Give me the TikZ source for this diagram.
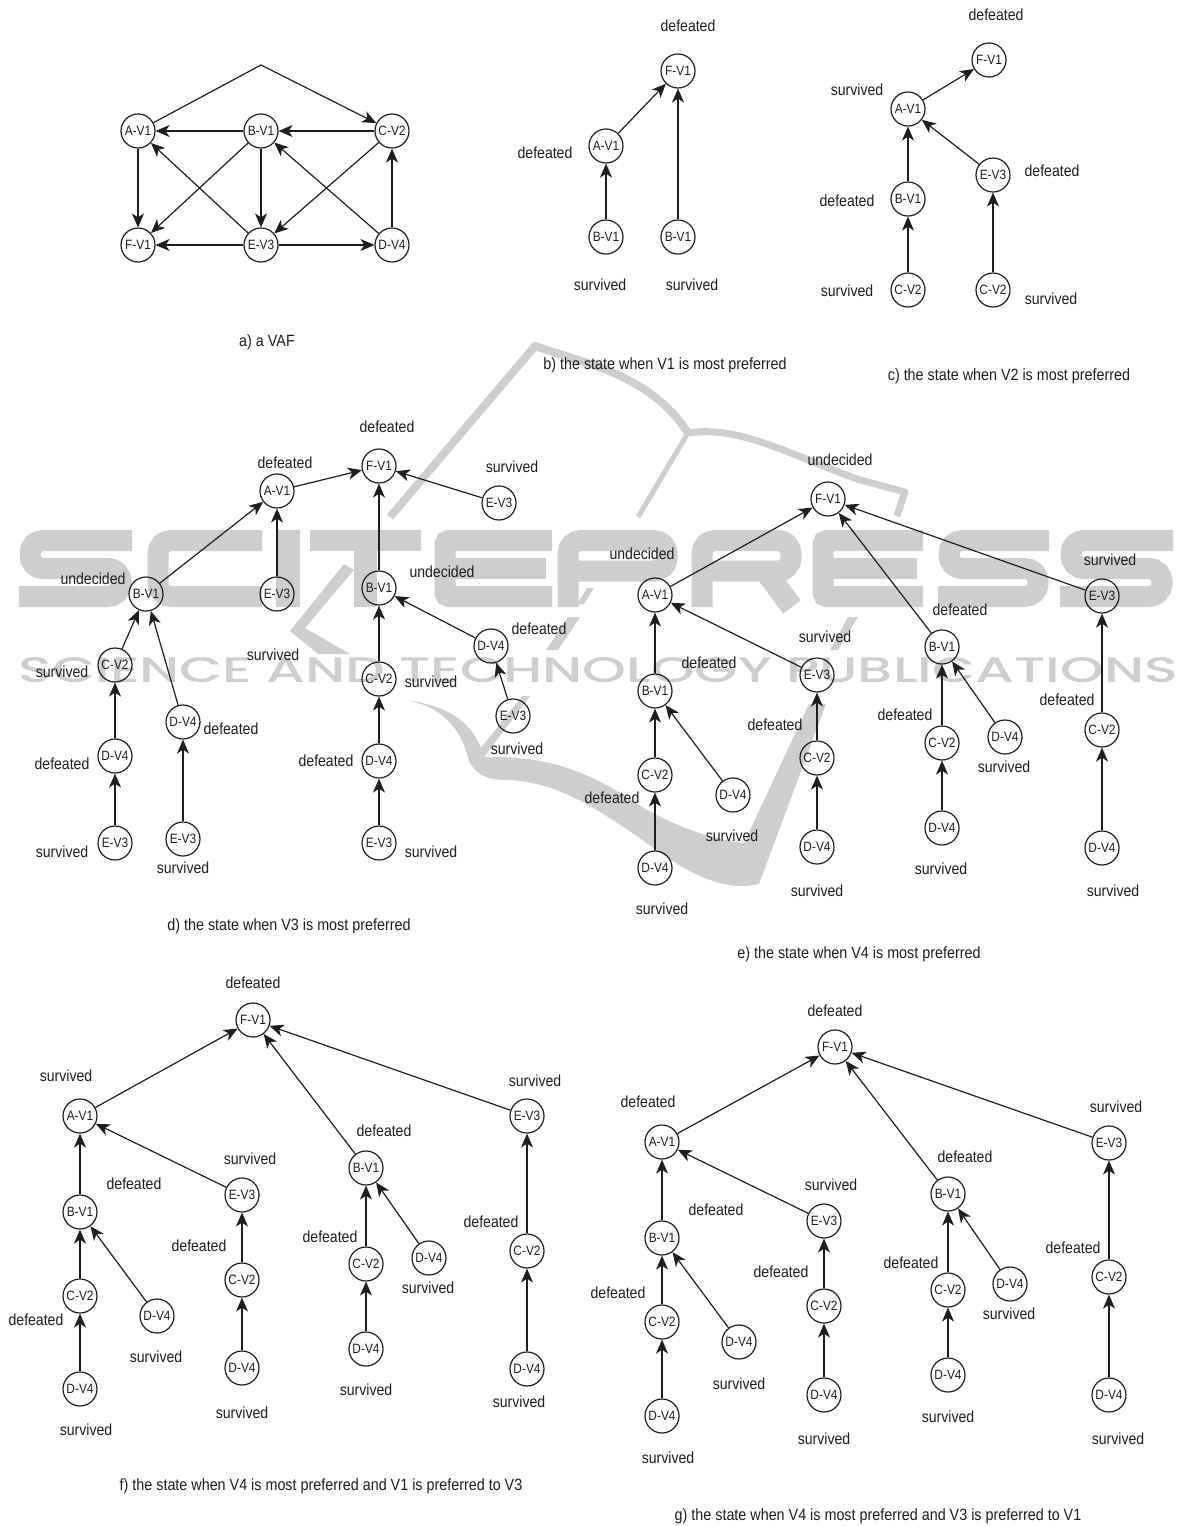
\documentclass[tikz,border=0pt]{standalone}
\usepackage{graphicx}
\usepackage{fontspec}
\setmainfont{Liberation Sans}[FakeStretch=0.88]
\newfontfamily\wmfont{Poppins Medium}
\usetikzlibrary{arrows.meta}
\definecolor{wm}{HTML}{CECECE}
\definecolor{ink}{HTML}{1E1E1E}
\tikzset{
  vnode/.style={circle,draw=ink,line width=1.2pt,minimum size=34pt,inner sep=0pt,text=ink,font=\fontsize{13.5}{13.5}\selectfont},
  edge/.style={draw=ink,line width=1.2pt,-{Stealth[length=14pt,width=12pt,inset=4pt]}},
  lab/.style={text=ink,inner sep=0pt,font=\fontsize{16}{16}\selectfont},
  captext/.style={text=ink,inner sep=0pt,font=\fontsize{16.3}{16.3}\selectfont},
  wmline/.style={draw=wm,line cap=butt,line join=round},
  wmfill/.style={fill=wm,draw=none},
  wmletter/.style={draw=wm,line width=21pt,line cap=butt,line join=miter,rounded corners=13pt},
}
\begin{document}
\begin{tikzpicture}[x=1pt,y=-1pt]
\useasboundingbox (0,0) rectangle (1182,1526);
% watermark: SCITEPRESS drawn as broad strokes
\begin{scope}[wmletter]
 \foreach \a/\b in {19/132, 938/1049, 1060/1173}
   \draw (\b,540.5) -- (\a+11,540.5) -- (\a+11,568.5) -- (\b-11,568.5) -- (\b-11,596.5) -- (\a,596.5);
 \draw (262,540.5) -- (158,540.5) -- (158,596.5) -- (262,596.5);
 \draw[rounded corners=0pt,line width=24pt] (287.5,530) -- (287.5,607);
 \draw[rounded corners=0pt] (310,540.5) -- (421,540.5);
 \draw[rounded corners=0pt,line width=23pt] (365.5,530) -- (365.5,607);
 \foreach \a/\b in {434/552, 812/923} {
   \draw[rounded corners=4pt] (\b,540.5) -- (\a+11,540.5) -- (\a+11,596.5) -- (\b,596.5);
   \draw[rounded corners=0pt] (\a+11,568.5) -- (\b-6,568.5);
 }
 \draw (568,607) -- (568,540.5) -- (667,540.5) -- (667,571) -- (568,571);
 \draw (702,607) -- (702,540.5) -- (791,540.5) -- (791,571) -- (702,571);
 \draw[rounded corners=0pt,line width=22pt] (768,575) -- (792,607);
\end{scope}
\node[inner sep=0pt,text=wm,anchor=center] (wmB) at (598.5,670.5) {\resizebox{1159pt}{25pt}{\wmfont SCIENCE AND TECHNOLOGY PUBLICATIONS}};
% watermark: logo
\draw[wmline,line width=8pt] (390,517) -- (535,346) .. controls (590,365) and (650,375) .. (688,433);
\draw[wmline,line width=5pt] (688,433) -- (638,517);
\draw[wmline,line width=7pt] (688,433) .. controls (740,425) and (790,455) .. (860,480) -- (905,492) -- (897,516);
\fill[wmfill] (405,700) .. controls (440,706) and (460,725) .. (469,761) .. controls (478,778) and (490,780) .. (510,780) .. controls (560,784) and (590,805) .. (637,836) .. controls (670,860) and (715,895) .. (759,884) -- (826,704) -- (809,704) -- (744,843) .. controls (700,838) and (660,818) .. (637,804) .. controls (590,772) and (550,757) .. (494,757) -- (484,757) -- (530,696) -- (522,696) -- (481,748) .. controls (470,720) and (445,705) .. (405,700) -- cycle;
\fill[wmfill] (344,564) -- (354,570) -- (305,628) -- (350,654) -- (318,654) -- (290,631) -- cycle;
\fill[wmfill] (568,617) -- (580,617) -- (558,650) -- (546,650) -- cycle;
\fill[wmfill] (587,588) -- (594,588) -- (584,604) -- (577,604) -- cycle;
\fill[wmfill] (848,617) -- (858,617) -- (838,650) -- (830,650) -- cycle;
% nodes
\foreach \n/\t/\x/\y in {
 aA/A-V1/138/131, aB/B-V1/261/131, aC/C-V2/392/131, aF/F-V1/138/245, aE/E-V3/261/245, aD/D-V4/392/245,
 bF/F-V1/678/71, bA/A-V1/606/146, bB/B-V1/606/237, bC/B-V1/678/237,
 cF/F-V1/989/60, cA/A-V1/908/109, cB/B-V1/908/199, cE/E-V3/993/175, cC/C-V2/908/290, cD/C-V2/993/290,
 dF/F-V1/379/466, dA/A-V1/277/491, dE/E-V3/499/503, dB/B-V1/146/594, dG/E-V3/277/594, dH/B-V1/379/588,
 dC/C-V2/115/665, dD/D-V4/183/722, dI/D-V4/491/646, dJ/C-V2/379/679, dK/E-V3/513/716, dL/D-V4/115/756,
 dM/D-V4/379/761, dN/E-V3/115/843, dO/E-V3/183/839, dP/E-V3/379/843,
 eF/F-V1/828/499, eA/A-V1/655/595, eE/E-V3/1102/596, eB/B-V1/655/691, eG/E-V3/817/675, eH/B-V1/942/647,
 eC/C-V2/655/775, eD/D-V4/733/795, eI/C-V2/817/758, eJ/C-V2/942/743, eK/D-V4/1005/737, eL/C-V2/1102/730,
 eM/D-V4/655/868, eN/D-V4/817/847, eO/D-V4/942/828, eP/D-V4/1102/848,
 fF/F-V1/253/1020, fA/A-V1/80/1116, fE/E-V3/527/1116, fB/B-V1/80/1212, fG/E-V3/242/1195, fH/B-V1/366/1168,
 fC/C-V2/80/1296, fD/D-V4/157/1316, fI/C-V2/242/1280, fJ/C-V2/366/1264, fK/D-V4/429/1258, fL/C-V2/527/1251,
 fM/D-V4/80/1389, fN/D-V4/242/1368, fO/D-V4/366/1349, fP/D-V4/527/1369,
 gF/F-V1/835/1047, gA/A-V1/662/1142, gE/E-V3/1109/1143, gB/B-V1/662/1238, gG/E-V3/824/1221, gH/B-V1/948/1194,
 gC/C-V2/662/1322, gD/D-V4/739/1342, gI/C-V2/824/1306, gJ/C-V2/948/1290, gK/D-V4/1010/1284, gL/C-V2/1109/1277,
 gM/D-V4/662/1416, gN/D-V4/824/1395, gO/D-V4/948/1375, gP/D-V4/1109/1395}
  \node[vnode] (\n) at (\x,\y) {\t};
% panel a apex
\coordinate (aTop) at (261,65);
\draw[edge] (aA) -- (aTop) -- (aC);
% edges
\foreach \p/\q in {
 aB/aA, aC/aB, aA/aF, aB/aF, aB/aE, aE/aA, aC/aE, aD/aB, aD/aC, aE/aF, aE/aD,
 bA/bF, bB/bA, bC/bF,
 cA/cF, cB/cA, cE/cA, cC/cB, cD/cE,
 dA/dF, dE/dF, dH/dF, dB/dA, dG/dA, dC/dB, dD/dB, dJ/dH, dI/dH, dK/dI, dL/dC, dN/dL, dO/dD, dM/dJ, dP/dM,
 eA/eF, eH/eF, eE/eF, eB/eA, eG/eA, eC/eB, eD/eB, eM/eC, eI/eG, eN/eI, eJ/eH, eK/eH, eO/eJ, eL/eE, eP/eL,
 fA/fF, fH/fF, fE/fF, fB/fA, fG/fA, fC/fB, fD/fB, fM/fC, fI/fG, fN/fI, fJ/fH, fK/fH, fO/fJ, fL/fE, fP/fL,
 gA/gF, gH/gF, gE/gF, gB/gA, gG/gA, gC/gB, gD/gB, gM/gC, gI/gG, gN/gI, gJ/gH, gK/gH, gO/gJ, gL/gE, gP/gL}
  \draw[edge] (\p) -- (\q);
% state labels
\foreach \t/\x/\y [count=\i] in {
 defeated/688/26, defeated/545/153, survived/600/285, survived/692/285,
 defeated/996/15, survived/857/90, defeated/847/201, defeated/1052/171, survived/847/291, survived/1051/299,
 defeated/387/427, defeated/285/463, survived/512/467, undecided/93/579, undecided/442/572, survived/273/655,
 defeated/539/629, survived/62/672, survived/431/682, defeated/231/729, survived/517/749, defeated/62/764,
 defeated/326/761, survived/62/852, survived/431/852, survived/183/868,
 undecided/840/460, undecided/642/554, survived/1110/560, defeated/960/610, survived/825/637, defeated/709/663,
 defeated/775/725, defeated/905/715, defeated/1067/700, defeated/612/798, survived/732/836, survived/1004/767,
 survived/817/891, survived/941/869, survived/1113/891, survived/662/909,
 defeated/253/983, survived/66/1076, survived/535/1081, defeated/384/1131, survived/250/1159, defeated/134/1184,
 defeated/199/1246, defeated/330/1237, defeated/491/1222, defeated/36/1320, survived/156/1357, survived/428/1288,
 survived/242/1413, survived/366/1390, survived/519/1402, survived/86/1430,
 defeated/835/1011, defeated/648/1102, survived/1116/1107, defeated/965/1157, survived/831/1185, defeated/716/1210,
 defeated/781/1272, defeated/911/1263, defeated/1073/1248, defeated/618/1293, survived/739/1384, survived/1009/1314,
 survived/824/1439, survived/948/1417, survived/1118/1439, survived/668/1458}
  \node[lab] (L\i) at (\x,\y) {\t};
% captions
\node[captext] (capa) at (267,342) {a) a VAF};
\node[captext] (capb) at (665,365) {b) the state when V1 is most preferred};
\node[captext] (capc) at (1009,376) {c) the state when V2 is most preferred};
\node[captext] (capd) at (289,926) {d) the state when V3 is most preferred};
\node[captext] (cape) at (859,954) {e) the state when V4 is most preferred};
\node[captext] (capf) at (321,1486) {f) the state when V4 is most preferred and V1 is preferred to V3};
\node[captext] (capg) at (878,1516) {g) the state when V4 is most preferred and V3 is preferred to V1};
\end{tikzpicture}
\end{document}
